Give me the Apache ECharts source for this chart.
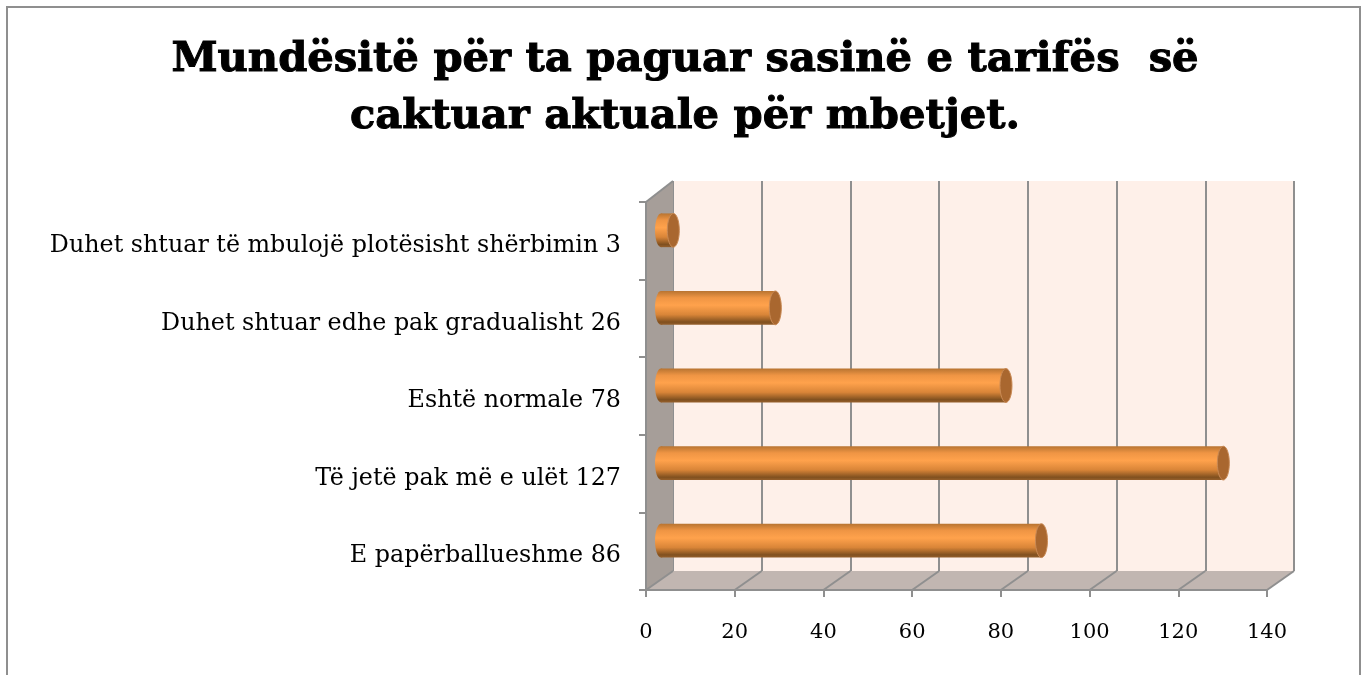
<!DOCTYPE html>
<html>
<head>
<meta charset="utf-8">
<script src="https://cdn.jsdelivr.net/npm/echarts@6/dist/echarts.min.js"></script>
<style>
  html, body { margin: 0; padding: 0; background: #fff; }
  #main { width: 1361px; height: 675px; }
</style>
</head>
<body>
<div id="main"></div>
<script>
// bottom to top, as the value axis starts at the bottom row
var categories = [
    'E papërballueshme 86',
    'Të jetë pak më e ulët 127',
    'Eshtë normale 78',
    'Duhet shtuar edhe pak gradualisht 26',
    'Duhet shtuar të mbulojë plotësisht shërbimin 3'
];
var values = [86, 127, 78, 26, 3];
var valueTicks = [0, 20, 40, 60, 80, 100, 120, 140];
var titleLines = ['Mundësitë për ta paguar sasinë e tarifës  së', 'caktuar aktuale për mbetjet.'];

var FONT = '"DejaVu Serif", serif';
var LINE = '#8f8f8f';
var DEPTH_X = 27;
var DEPTH_Y = -19;
var DEPTH_Y_TOP = -21;

var myChart = echarts.init(document.getElementById('main'));

function renderShell(params, api) {
    var r = params.coordSys;
    var lineStyle = { stroke: LINE, lineWidth: 2, fill: null };
    var left = r.x, right = r.x + r.width, top = r.y, bottom = r.y + r.height;
    return {
        type: 'group',
        children: [
            {
                type: 'polygon',
                shape: { points: [[left, bottom], [left + DEPTH_X, bottom + DEPTH_Y], [right + DEPTH_X, bottom + DEPTH_Y], [right, bottom]] },
                style: { fill: '#c1b6b1' }
            },
            {
                type: 'polygon',
                shape: { points: [[left, top], [left + DEPTH_X, top + DEPTH_Y_TOP], [left + DEPTH_X, bottom + DEPTH_Y], [left, bottom]] },
                style: { fill: '#a69e99' }
            },
            {
                type: 'line',
                shape: { x1: left, y1: top, x2: left + DEPTH_X, y2: top + DEPTH_Y_TOP },
                style: lineStyle
            }
        ]
    };
}

function renderDiagonal(params, api) {
    var p = api.coord([api.value(0), 0]);
    var bottom = params.coordSys.y + params.coordSys.height;
    return {
        type: 'line',
        shape: { x1: p[0], y1: bottom, x2: p[0] + DEPTH_X, y2: bottom + DEPTH_Y },
        style: { stroke: LINE, lineWidth: 2, fill: null }
    };
}

function renderCylinder(params, api) {
    var start = api.coord([0, api.value(1)]);
    var end = api.coord([api.value(0), api.value(1)]);
    var h = api.size([0, 1])[1] * 0.435;
    var rx = 6;
    var body = new echarts.graphic.LinearGradient(0, 0, 0, 1, [
        { offset: 0, color: '#b87431' },
        { offset: 0.2, color: '#ef9544' },
        { offset: 0.42, color: '#ffa24c' },
        { offset: 0.7, color: '#d98538' },
        { offset: 0.92, color: '#80501f' },
        { offset: 1, color: '#96602c' }
    ]);
    return {
        type: 'group',
        children: [
            {
                type: 'ellipse',
                shape: { cx: start[0] + 1, cy: start[1], rx: rx, ry: h / 2 },
                style: { fill: body }
            },
            {
                type: 'rect',
                shape: { x: start[0] + 1, y: start[1] - h / 2, width: end[0] - start[0] - 1, height: h },
                style: { fill: body }
            },
            {
                type: 'ellipse',
                shape: { cx: end[0], cy: end[1], rx: rx, ry: h / 2 },
                style: { fill: '#a9672f', stroke: '#c98a55', lineWidth: 1 }
            }
        ]
    };
}

myChart.setOption({
    backgroundColor: '#fff',
    animation: false,
    title: {
        text: titleLines.join('\n'),
        left: 680,
        top: 27,
        textAlign: 'center',
        textStyle: {
            fontFamily: FONT,
            fontWeight: 900,
            fontSize: 41.7,
            lineHeight: 57,
            color: '#000',
            textBorderColor: '#000',
            textBorderWidth: 1
        }
    },
    graphic: [
        {
            type: 'rect',
            silent: true,
            shape: { x: 7, y: 7, width: 1353, height: 720 },
            style: { fill: null, stroke: LINE, lineWidth: 2 }
        }
    ],
    grid: [
        // front plane, carries the visible axes
        { left: 646, width: 621, top: 202, height: 388 },
        // back wall
        { left: 673, width: 621, top: 181, height: 390, show: true, backgroundColor: '#fef0e9', borderWidth: 0 },
        // middle plane, the bars stand here
        { left: 660, width: 621, top: 191.5, height: 388 }
    ],
    xAxis: [
        {
            gridIndex: 0,
            type: 'value',
            min: 0,
            max: 140,
            interval: 20,
            z: 5,
            splitLine: { show: false },
            axisLine: { show: true, lineStyle: { color: LINE, width: 2 } },
            axisTick: { show: true, length: 7, lineStyle: { color: LINE, width: 2 } },
            axisLabel: { color: '#000', fontFamily: FONT, fontSize: 21, margin: 32, showMinLabel: true, showMaxLabel: true }
        },
        {
            gridIndex: 1,
            type: 'value',
            min: 0,
            max: 140,
            interval: 20,
            axisLine: { show: false },
            axisTick: { show: false },
            axisLabel: { show: false },
            splitLine: { show: true, lineStyle: { color: LINE, width: 2 } }
        },
        {
            gridIndex: 2,
            type: 'value',
            min: 0,
            max: 140,
            show: false
        }
    ],
    yAxis: [
        {
            gridIndex: 0,
            type: 'category',
            data: categories,
            z: 5,
            axisLine: { show: true, onZero: false, lineStyle: { color: LINE, width: 2 } },
            axisTick: { show: true, length: 7, lineStyle: { color: LINE, width: 2 } },
            axisLabel: {
                margin: 25,
                interval: 0,
                formatter: '{a|{value}}',
                rich: { a: { color: '#000', fontFamily: FONT, fontSize: 23.8, padding: [10, 0, 0, 0] } }
            }
        },
        {
            gridIndex: 1,
            type: 'category',
            data: categories,
            show: false
        },
        {
            gridIndex: 2,
            type: 'category',
            data: categories,
            show: false
        }
    ],
    series: [
        {
            type: 'custom',
            xAxisIndex: 0,
            yAxisIndex: 0,
            z: 1,
            silent: true,
            data: [[0, 0]],
            renderItem: renderShell
        },
        {
            type: 'custom',
            xAxisIndex: 0,
            yAxisIndex: 0,
            z: 2,
            silent: true,
            data: valueTicks.map(function (t) { return [t, 0]; }),
            renderItem: renderDiagonal
        },
        {
            type: 'custom',
            xAxisIndex: 2,
            yAxisIndex: 2,
            z: 10,
            data: values.map(function (v, i) { return [v, i]; }),
            renderItem: renderCylinder
        }
    ]
});
</script>
</body>
</html>
